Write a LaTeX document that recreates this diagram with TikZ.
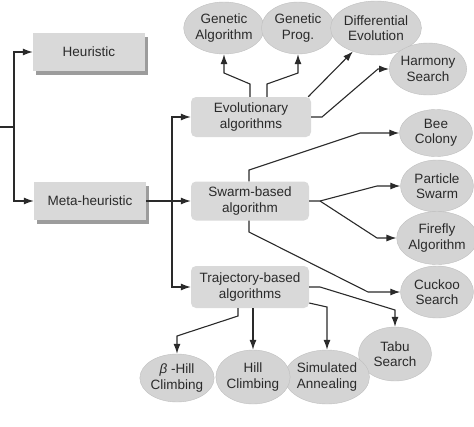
\documentclass[tikz,border=0pt]{standalone}
\usepackage{fontspec}
\setmainfont{Liberation Sans}
\usetikzlibrary{arrows.meta,shapes.geometric,shadows}
\definecolor{boxfill}{HTML}{D9D9D9}
\definecolor{ellfill}{HTML}{D4D4D4}
\definecolor{ink}{HTML}{2A2A2A}
\definecolor{shadowc}{HTML}{9C9C9C}
\begin{document}
\begin{tikzpicture}[x=1pt,y=-1pt,
  every node/.style={font=\fontsize{13.5}{15.5}\selectfont, text=ink, align=center},
  sqbox/.style={rectangle, fill=boxfill, minimum width=112pt, minimum height=38pt, inner sep=0pt,
    drop shadow={shadow xshift=3pt, shadow yshift=-4pt, fill=shadowc, opacity=1}},
  rbox/.style={rectangle, rounded corners=5pt, fill=boxfill, inner sep=0pt},
  ell/.style={ellipse, fill=ellfill, draw=ellfill!90!black, line width=0.4pt, inner sep=0pt, minimum width=73pt, minimum height=52pt},
  conn/.style={draw=ink, line width=1.1pt},
  arr/.style={conn, -{Latex[length=10pt,width=7pt]}}]
\useasboundingbox (0,0) rectangle (474,426);
% left boxes
\node[sqbox] (heur) at (89,52) {Heuristic};
\node[sqbox] (meta) at (90,201) {Meta-heuristic};
% middle boxes
\node[rbox, minimum width=120pt, minimum height=40pt] (evo) at (251,117) {Evolutionary\\algorithms};
\node[rbox, minimum width=118pt, minimum height=39pt] (sw) at (250,201) {Swarm-based\\algorithm};
\node[rbox, minimum width=118pt, minimum height=42pt] (tr) at (250,287) {Trajectory-based\\algorithms};
% ellipses
\node[ell] (ga) at (224,28) {Genetic\\Algorithm};
\node[ell] (gp) at (298,28) {Genetic\\Prog.};
\node[ell, minimum width=78pt, minimum height=54pt] (de) at (376,28) {Differential\\Evolution};
\node[ell] (hs) at (428,69) {Harmony\\Search};
\node[ell, minimum height=47pt] (bee) at (436,133) {Bee\\Colony};
\node[ell] (ps) at (437,186) {Particle\\Swarm};
\node[ell, minimum height=53pt] (ff) at (437,238) {Firefly\\Algorithm};
\node[ell] (ck) at (437,292) {Cuckoo\\Search};
\node[ell, minimum height=54pt] (tabu) at (395,354) {Tabu\\Search};
\node[ell, minimum height=54pt] (sa) at (327,377) {Simulated\\Annealing};
\node[ell, minimum height=54pt] (hc) at (253,377) {Hill\\Climbing};
\node[ell, minimum height=48pt] (bh) at (177,378) {\textit{β} -Hill\\Climbing};
% left connectors
\coordinate (root) at (0,127);
\draw[conn] (root) -- (14,127);
\draw[arr] (14,127) |- (heur.west);
\draw[arr] (14,127) |- (meta.west);
\draw[arr] (meta.east) -- (sw.west);
\draw[arr] (172,201) |- (evo.west);
\draw[arr] (172,201) |- (tr.west);
% evolutionary
\draw[arr] (evo.north -| 250,0) -- (250,84) -- (224,73) -- (ga.south);
\draw[arr] (evo.north -| 267,0) -- (267,84) -- (298,73) -- (gp.south);
\draw[arr] ([xshift=-3pt]evo.north east) -- (de);
\draw[arr] (evo.east) -- (322,117) -- (378,69) -- (hs.west);
% swarm
\draw[arr] (sw.north -| 249,0) -- (249,170) -- (360,133) -- (bee.west);
\draw[arr] (sw.east) -- (320,201) -- (377,186) -- (ps.west);
\draw[arr] (320,201) -- (377,238) -- (ff.west);
\draw[arr] (sw.south -| 249,0) -- (249,232) -- (368,292) -- (ck.west);
% trajectory
\draw[arr] (tr.east) -- (320,287) -- (395,310) -- (tabu.north);
\draw[arr] (tr.east |- 0,303) -- (327,307) -- (sa.north);
\draw[arr] (tr.south -| 253,0) -- (hc.north);
\draw[arr] (tr.south -| 238,0) -- (238,316) -- (177,336) -- (bh.north);
\end{tikzpicture}
\end{document}
